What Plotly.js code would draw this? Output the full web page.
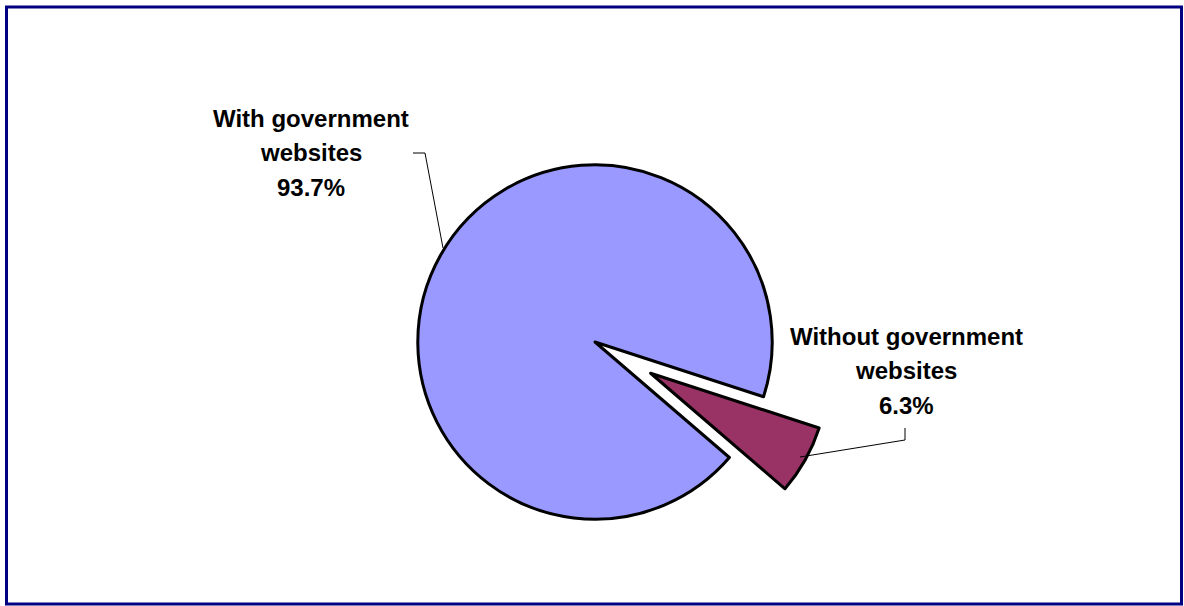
<!DOCTYPE html>
<html>
<head>
<meta charset="utf-8">
<script src="https://cdn.plot.ly/plotly-3.0.1.min.js"></script>
<style>
  html, body { margin: 0; padding: 0; background: #ffffff; }
  #chart { width: 1184px; height: 606px; }
</style>
</head>
<body>
<div id="chart"></div>
<script>
// ---- data ----
const categories = ["Without government<br>websites", "With government<br>websites"];
const shares = [6.3, 93.7];
const sliceColors = ["#993366", "#9999FF"];
const pulls = [0.36, 0];

// ---- helpers (pixel -> paper coords for decorations) ----
const W = 1184, H = 606;
const px = x => x / W;
const py = y => 1 - y / H;

const cy = 342, cx = 595, boxHalf = 241;
const trace = {
  type: "pie",
  labels: categories,
  values: shares,
  sort: false,
  direction: "clockwise",
  rotation: 108,
  pull: pulls,
  marker: { colors: sliceColors, line: { color: "#000000", width: 3 } },
  textinfo: "none",
  hoverinfo: "none",
  showlegend: false,
  domain: { x: [px(cx - 360), px(cx + 360)], y: [py(cy + boxHalf), py(cy - boxHalf)] }
};

const labelFont = { family: "Liberation Sans, Arial, sans-serif", size: 24, color: "#000000" };
const lineGap = 34.5;

// build label annotations, one per text line, from the data arrays
function labelLines(i, centerX, firstY) {
  const lines = categories[i].split("<br>").concat([shares[i].toFixed(1) + "%"]);
  return lines.map((t, k) => ({
    xref: "paper", yref: "paper", x: px(centerX), y: py(firstY + k * lineGap),
    text: "<b>" + t + "</b>", showarrow: false, font: labelFont,
    xanchor: "center", yanchor: "middle"
  }));
}

const layout = {
  width: W, height: H,
  margin: { l: 0, r: 0, t: 0, b: 0 },
  paper_bgcolor: "#ffffff",
  showlegend: false,
  annotations: labelLines(1, 311, 118).concat(labelLines(0, 906, 336)),
  shapes: [
    // outer frame
    { type: "rect", xref: "paper", yref: "paper", x0: px(6.5), x1: px(1181.5), y0: py(604), y1: py(7),
      line: { color: "#000080", width: 3 }, fillcolor: "rgba(0,0,0,0)" },
    // leader line: With government websites
    { type: "path", xref: "paper", yref: "paper",
      path: `M ${px(413)} ${py(153)} L ${px(425)} ${py(153)} L ${px(443)} ${py(248)}`,
      line: { color: "#000000", width: 1 } },
    // leader line: Without government websites
    { type: "path", xref: "paper", yref: "paper",
      path: `M ${px(905)} ${py(428)} L ${px(905)} ${py(440)} L ${px(800)} ${py(457)}`,
      line: { color: "#000000", width: 1 } }
  ]
};

Plotly.newPlot("chart", [trace], layout, { displayModeBar: false, staticPlot: true });
</script>
</body>
</html>
